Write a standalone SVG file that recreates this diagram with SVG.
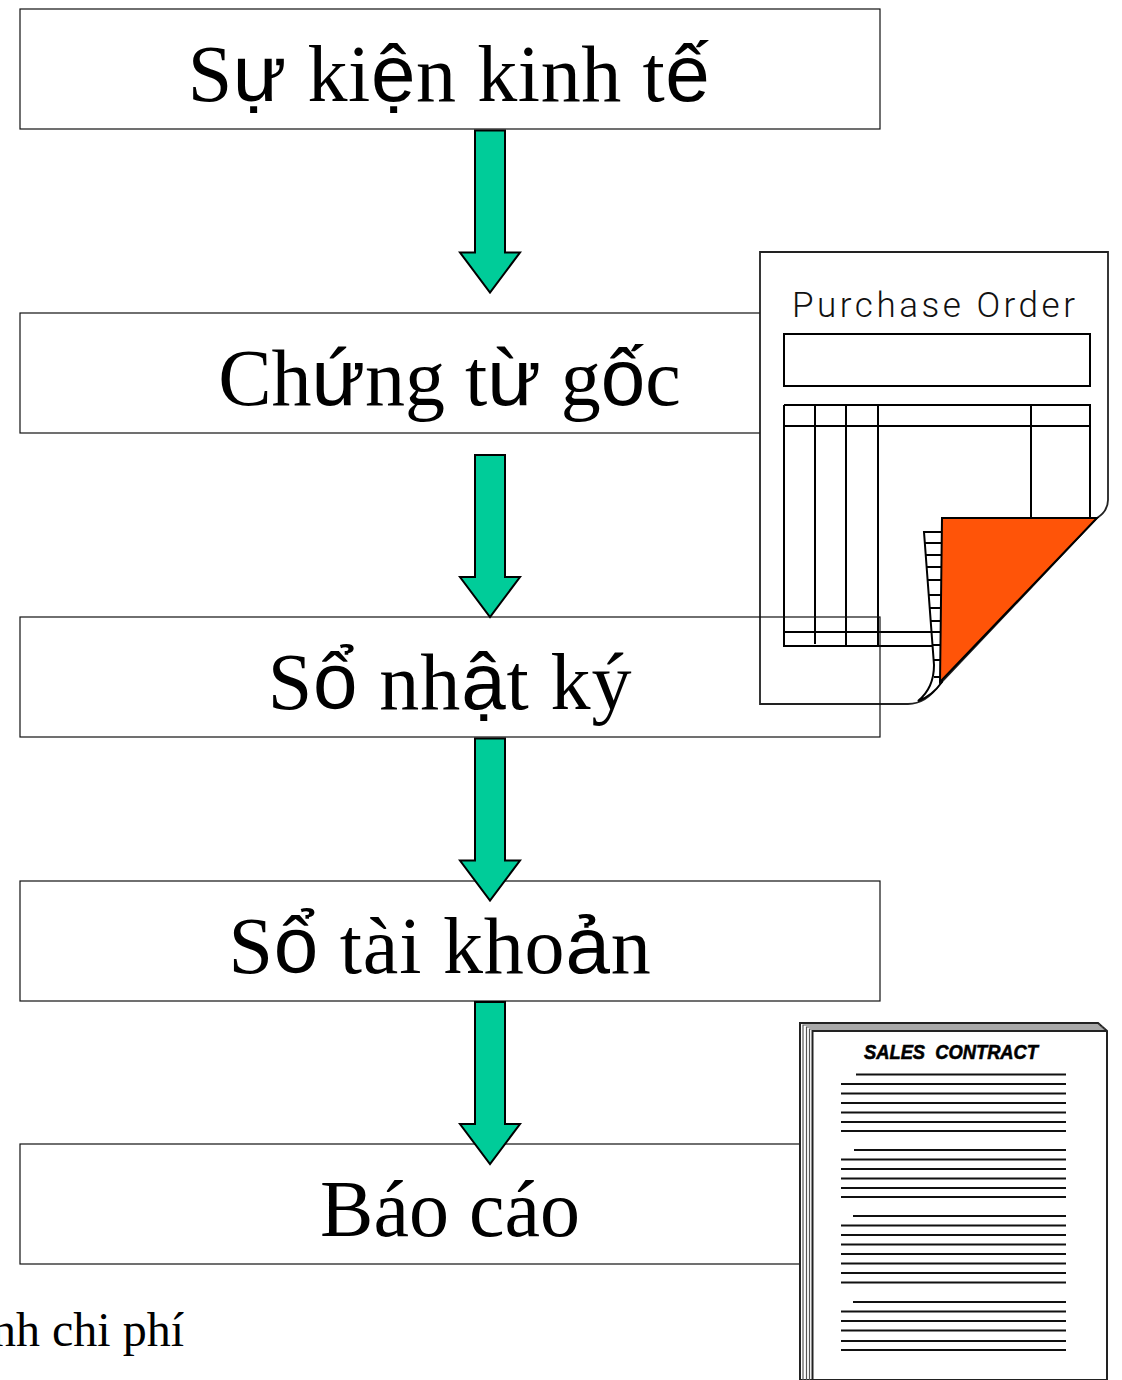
<svg xmlns="http://www.w3.org/2000/svg" width="1122" height="1380" viewBox="0 0 1122 1380">
<style>
.box{fill:none;stroke:#111;stroke-width:1.2}
.t{font-family:"Liberation Serif","Times New Roman",serif;font-size:80px;fill:#000;text-anchor:middle}
.s{font-family:"Liberation Sans",Arial,sans-serif}
.arrow{fill:#00cc99;stroke:#000;stroke-width:2}
.ln{fill:none;stroke:#000;stroke-width:2}
.cl{stroke:#111;stroke-width:2}
</style>
<defs>
<path id="ar" d="M475 0H505V122H520L490 162L460 122H475Z"/>
</defs>
<rect width="1122" height="1380" fill="#fff"/>
<g id="node-su-kien"><rect class="box" x="20" y="9" width="860" height="120"/><text class="t" x="449" y="101" letter-spacing=".6">S<tspan class="s">ự</tspan> ki<tspan class="s">ệ</tspan>n kinh t<tspan class="s">ế</tspan></text></g>
<g id="node-chung-tu"><rect class="box" x="20" y="313" width="860" height="120"/><text class="t" x="449.500" y="405">Ch<tspan class="s">ứ</tspan>ng t<tspan class="s">ừ</tspan> g<tspan class="s">ố</tspan>c</text></g>
<g id="purchase-order">
<path d="M760 252H1108V500Q1108 511 1097 518L940 684Q926 704 908 704H760Z" fill="#fff" stroke="#222" stroke-width="1.800"/>
<text x="792" y="317" font-family="Roboto,'Liberation Sans',sans-serif" font-weight="300" font-size="35" textLength="283" lengthAdjust="spacing" fill="#111">Purchase Order</text>
<rect class="ln" x="784" y="334" width="306" height="52"/>
<path class="ln" d="M784 405H1090V518M784 426H1090M784 405V646H933M815 405V644M846 405V646M878 405V646M1031 405V518M784 632H932"/>
<path d="M942 532H924L934 665Q934 688 918 701Q932 696 942 682V532Z" fill="#fff" stroke="#000" stroke-width="2"/>
<path class="ln" d="M925 543H942M926 555H942M927 567H942M928 580H942M929 595H942M930 608H942M931 621H942M932 632H942M933 645H942M934 660H942M934 677H942"/>
<path d="M942 518H1097L940 682Z" fill="#ff5408" stroke="#000" stroke-width="2"/>
</g>
<g id="node-so-nhat-ky"><rect class="box" x="20" y="617" width="860" height="120"/><text class="t" x="450" y="709" letter-spacing=".9">S<tspan class="s">ổ</tspan> nh<tspan class="s">ậ</tspan>t ký</text></g>
<g id="node-so-tai-khoan"><rect class="box" x="20" y="881" width="860" height="120"/><text class="t" x="440" y="973" letter-spacing=".8">S<tspan class="s">ổ</tspan> tài kho<tspan class="s">ả</tspan>n</text></g>
<g id="node-bao-cao"><rect class="box" x="20" y="1144" width="860" height="120"/><text class="t" x="450" y="1236">Báo cáo</text></g>
<g id="sales-contract">
<path d="M800 1380V1023H1098L1107 1031V1380H812Z" fill="#fff" stroke="#222" stroke-width="2"/>
<path d="M803 1380V1025H1100M806.500 1380V1027H1103M809.500 1380V1029H1105" fill="none" stroke="#555" stroke-width="1.200"/>
<path d="M812.500 1380V1031H1107" fill="none" stroke="#222" stroke-width="2"/>
<text x="864" y="1059" font-family="'Liberation Sans',Arial,sans-serif" font-size="20" font-weight="bold" font-style="italic" textLength="174" lengthAdjust="spacingAndGlyphs" fill="#000" stroke="#000" stroke-width=".6" xml:space="preserve">SALES  CONTRACT</text>
<path class="cl" d="M856 1074.500H1066M841 1084H1066M841 1093.500H1066M841 1103H1066M841 1112.500H1066M841 1122H1066M841 1131H1066M854 1150H1066M841 1159.500H1066M841 1169H1066M841 1178.500H1066M841 1188H1066M841 1197H1066M853 1216H1066M841 1225.500H1066M841 1235H1066M841 1244.500H1066M841 1254H1066M841 1263.500H1066M841 1273H1066M841 1282.500H1066M853 1302H1066M841 1311.500H1066M841 1321H1066M841 1330.500H1066M841 1341H1066M841 1350H1066"/>
</g>
<g id="connectors">
<use href="#ar" class="arrow" y="130.500"/>
<use href="#ar" class="arrow" y="455"/>
<use href="#ar" class="arrow" y="738.500"/>
<use href="#ar" class="arrow" y="1002"/>
</g>
<text x="184" y="1346" text-anchor="end" font-family="'Liberation Serif','Times New Roman',serif" font-size="48" fill="#000">nh chi phí</text>
</svg>
